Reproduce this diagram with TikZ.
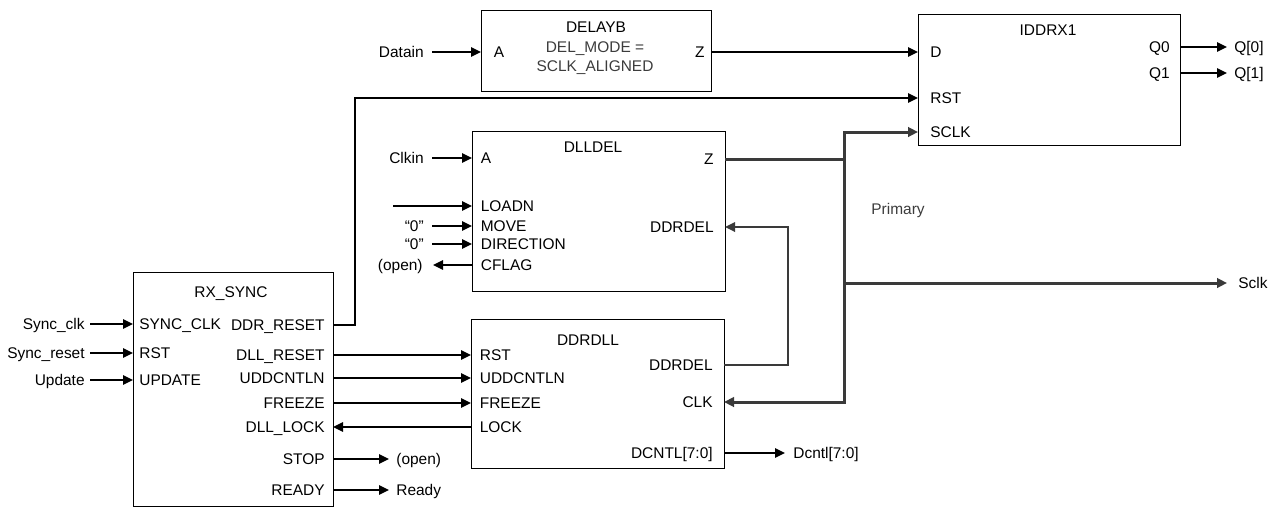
\documentclass[tikz,border=0pt]{standalone}
\usepackage{fontspec}
\setmainfont{Liberation Sans}
\usetikzlibrary{arrows.meta}

\definecolor{clkgray}{RGB}{58,58,58}
\definecolor{notegray}{RGB}{60,60,60}

\tikzset{
  blk/.style={draw, line width=0.8pt, anchor=north west, inner sep=0pt},
  lbl/.style={font=\fontsize{8.8}{10.6}\selectfont, text height=6.3pt, text depth=0pt, inner ysep=0pt},
  pinl/.style={lbl, anchor=west, inner xsep=0.17cm},
  pinr/.style={lbl, anchor=east, inner xsep=0.22cm},
  sigl/.style={lbl, anchor=east, inner xsep=0.16cm},
  sigr/.style={lbl, anchor=west, inner xsep=0.14cm},
  mode/.style={font=\fontsize{8.8}{10.8}\selectfont, align=center, text=notegray, inner sep=0pt},
  tip/.style={-{Triangle[length=0.2cm,width=0.19cm]}},
  sig/.style={draw, line width=0.8pt, tip},
  clk/.style={draw=clkgray, line width=1.7pt},
  fbk/.style={draw=clkgray, line width=1pt, tip}
}

\begin{document}
\begin{tikzpicture}[x=0.02cm, y=-0.02cm]
\useasboundingbox (0,0) rectangle (1270,508);

\def\xtr{844}
\def\xfb{788}
\def\xrb{355}

\node[blk, minimum width=4.6cm, minimum height=1.62cm](dlyb) at (481,10) {};
\node[blk, minimum width=5.24cm, minimum height=2.62cm](iddr) at (918,14) {};
\node[blk, minimum width=5.06cm, minimum height=3.2cm](dlldel) at (472,131) {};
\node[blk, minimum width=4cm, minimum height=4.68cm](rxs) at (133,272) {};
\node[blk, minimum width=5.06cm, minimum height=2.98cm](ddrdll) at (471,319) {};

\node[lbl](tdlyb) at (596,27) {DELAYB};
\node[lbl](tiddr) at (1048,30) {IDDRX1};
\node[lbl](tdlldel) at (593,147) {DLLDEL};
\node[lbl](trxs) at (231,292) {RX\_SYNC};
\node[lbl](tddrdll) at (588,340) {DDRDLL};

\node[pinl, inner xsep=0.25cm](ba) at (481,52) {A};
\node[pinr, inner xsep=0.12cm](bz) at (711,52) {Z};
\node[mode](bmode) at (595,58) {DEL\_MODE =\\SCLK\_ALIGNED};

\node[pinl, inner xsep=0.24cm](id) at (918,52) {D};
\node[pinl, inner xsep=0.24cm](irst) at (918,98) {RST};
\node[pinl, inner xsep=0.24cm](isclk) at (918,132) {SCLK};
\node[pinr, inner xsep=0.2cm](iq0) at (1180,47) {Q0};
\node[pinr, inner xsep=0.2cm](iq1) at (1180,73) {Q1};

\node[pinl](la) at (472,158) {A};
\node[pinl](lloadn) at (472,206) {LOADN};
\node[pinl](lmove) at (472,226) {MOVE};
\node[pinl](ldir) at (472,244) {DIRECTION};
\node[pinl](lcflag) at (472,265) {CFLAG};
\node[pinr](lz) at (725,159) {Z};
\node[pinr](lddel) at (725,227) {DDRDEL};

\node[pinl, inner xsep=0.12cm](rsclk) at (133,324) {SYNC\_CLK};
\node[pinl, inner xsep=0.12cm](rrst) at (133,353) {RST};
\node[pinl, inner xsep=0.12cm](rupd) at (133,380) {UPDATE};
\node[pinr, inner xsep=0.16cm](rddr) at (333,325) {DDR\_RESET};
\node[pinr, inner xsep=0.16cm](rdll) at (333,355) {DLL\_RESET};
\node[pinr, inner xsep=0.16cm](rudd) at (333,378) {UDDCNTLN};
\node[pinr, inner xsep=0.16cm](rfrz) at (333,403) {FREEZE};
\node[pinr, inner xsep=0.16cm](rlock) at (333,427) {DLL\_LOCK};
\node[pinr, inner xsep=0.16cm](rstop) at (333,459) {STOP};
\node[pinr, inner xsep=0.16cm](rrdy) at (333,490) {READY};

\node[pinl](drst) at (471,355) {RST};
\node[pinl](dudd) at (471,378) {UDDCNTLN};
\node[pinl](dfrz) at (471,403) {FREEZE};
\node[pinl](dlock) at (471,427) {LOCK};
\node[pinr](dddel) at (724,365) {DDRDEL};
\node[pinr](dclk) at (724,402) {CLK};
\node[pinr](dcntl) at (724,453) {DCNTL[7:0]};

\node[sigl](datain) at (432,52) {Datain};
\node[sigl](clkin) at (432,158) {Clkin};
\node[sigl](zmove) at (432,226) {“0”};
\node[sigl](zdir) at (432,244) {“0”};
\node[sigl, inner xsep=0.2cm](opencf) at (433,265) {(open)};
\node[sigl, inner xsep=0.1cm](syncclk) at (90,324) {Sync\_clk};
\node[sigl, inner xsep=0.1cm](syncrst) at (90,353) {Sync\_reset};
\node[sigl, inner xsep=0.1cm](upd) at (90,380) {Update};
\node[sigr](openst) at (389,459) {(open)};
\node[sigr](ready) at (389,490) {Ready};
\node[sigr, inner xsep=0.16cm](dcntlo) at (785,453) {Dcntl[7:0]};
\node[sigr](q0) at (1227,47) {Q[0]};
\node[sigr](q1) at (1227,73) {Q[1]};
\node[sigr, inner xsep=0.22cm](sclk) at (1227,283) {Sclk};
\node[lbl, text=notegray](prim) at (898,209) {Primary};

\coordinate (ldn) at (393,206);
\coordinate (trunk) at (\xtr,159);
\coordinate (fbc) at (\xfb,227);
\coordinate (rbend) at (\xrb,98);

\draw[sig] (datain.east) -- (ba.west);
\draw[sig] (bz.east) -- (id.west);
\draw[sig] (clkin.east) -- (la.west);
\draw[sig] (ldn) -- (lloadn.west);
\draw[sig] (zmove.east) -- (lmove.west);
\draw[sig] (zdir.east) -- (ldir.west);
\draw[sig] (lcflag.west) -- (opencf.east);
\draw[sig] (syncclk.east) -- (rsclk.west);
\draw[sig] (syncrst.east) -- (rrst.west);
\draw[sig] (upd.east) -- (rupd.west);
\draw[sig] (rddr.east) -| (rbend) -- (irst.west);
\draw[sig] (rdll.east) -- (drst.west);
\draw[sig] (rudd.east) -- (dudd.west);
\draw[sig] (rfrz.east) -- (dfrz.west);
\draw[sig] (dlock.west) -- (rlock.east);
\draw[sig] (rstop.east) -- (openst.west);
\draw[sig] (rrdy.east) -- (ready.west);
\draw[sig] (dcntl.east) -- (dcntlo.west);
\draw[sig] (iq0.east) -- (q0.west);
\draw[sig] (iq1.east) -- (q1.west);
\draw[fbk] (dddel.east) -| (fbc) -- (lddel.east);
\draw[clk] (lz.east) -- (trunk);
\draw[clk, tip] (trunk) |- (isclk.west);
\draw[clk, tip] (trunk) |- (sclk.west);
\draw[clk, tip] (trunk) |- (dclk.east);

\end{tikzpicture}
\end{document}
